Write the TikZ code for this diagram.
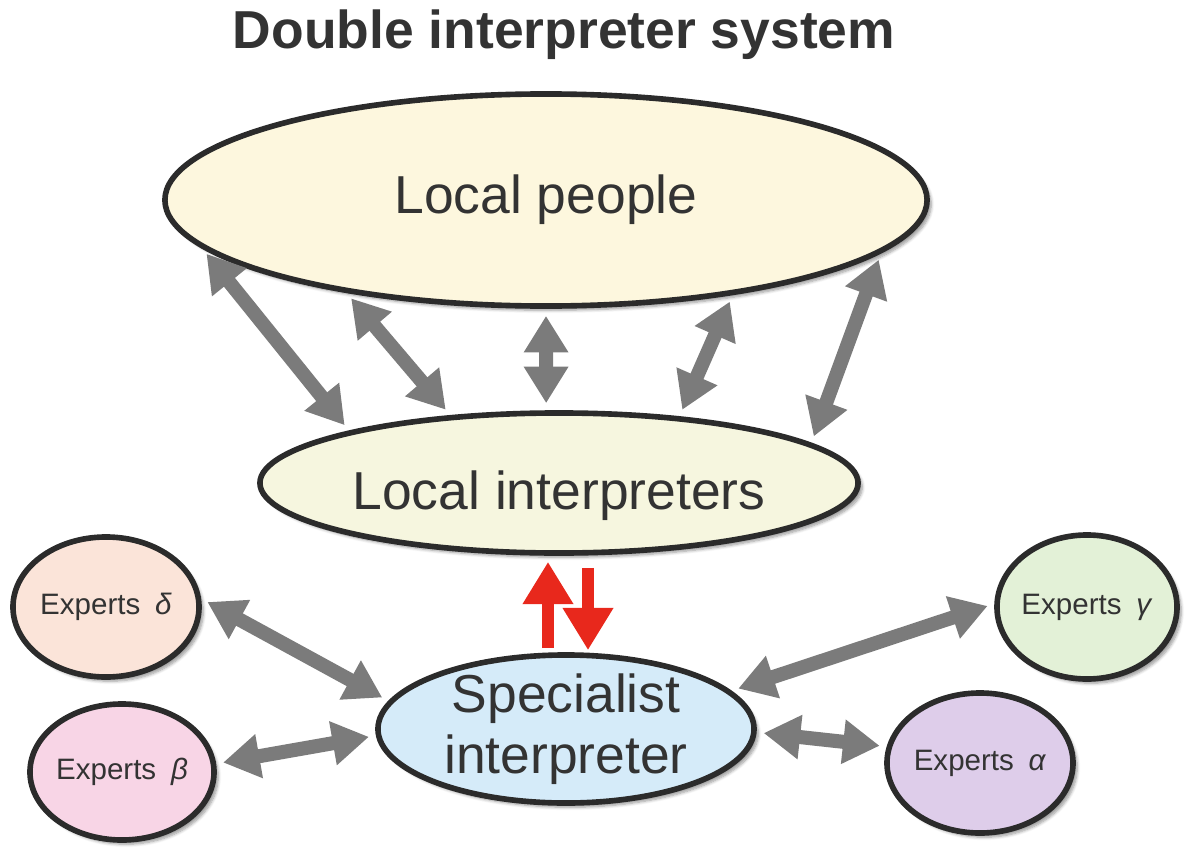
\documentclass[tikz,border=0pt]{standalone}
\usepackage{fontspec}
\setmainfont{Liberation Sans}
\usetikzlibrary{arrows.meta,shapes.geometric,calc,shadows.blur}
\definecolor{edge}{HTML}{2B2B2B}
\definecolor{ink}{HTML}{333333}
\definecolor{lpfill}{HTML}{FDF7DE}
\definecolor{lifill}{HTML}{F6F6DF}
\definecolor{sifill}{HTML}{D5EBF9}
\definecolor{deltafill}{HTML}{FBE4D9}
\definecolor{betafill}{HTML}{F8D5E6}
\definecolor{gammafill}{HTML}{E3F1D7}
\definecolor{alphafill}{HTML}{DECDEA}
\definecolor{linkgray}{HTML}{7B7B7B}
\definecolor{handred}{HTML}{E8281C}

\begin{document}
\begin{tikzpicture}[x=0.025cm,y=-0.025cm,
  bubble/.style={ellipse,draw=edge,line width=4pt,inner sep=-4pt,text=ink,
    blur shadow={shadow xshift=3pt,shadow yshift=-3pt,shadow blur steps=6,shadow opacity=40}},
  big/.style={font=\fontsize{38}{43}\selectfont},
  small/.style={font=\fontsize{21}{24}\selectfont},
  link/.style={draw=linkgray,line width=10pt,{Triangle[width=30pt,length=26pt]}-{Triangle[width=30pt,length=26pt]},shorten <=5pt,shorten >=5pt},
  handover/.style={draw=handred,line width=9pt,-{Triangle[width=34pt,length=30pt]}}]
\useasboundingbox (0,0) rectangle (1186,848);
%title
\node[text=ink,font=\fontsize{38}{42}\selectfont\bfseries] (title) at (564,35) {Double interpreter system};
%bubbles
\node[bubble,big,fill=lpfill,minimum width=19.05cm,minimum height=5.3cm] (lp) at (546,200) {Local people};
\node[bubble,big,fill=lifill,minimum width=14.95cm,minimum height=3.5cm,text height=46pt] (li) at (559,483) {Local interpreters};
\node[bubble,big,fill=sifill,minimum width=9.4cm,minimum height=3.7cm,align=center] (si) at (566,729) {Specialist\\interpreter};
\node[bubble,small,fill=deltafill,minimum width=4.65cm,minimum height=3.5cm] (delta) at (106,607) {Experts\enspace\textit{δ}};
\node[bubble,small,fill=betafill,minimum width=4.6cm,minimum height=3.4cm] (beta) at (122,772) {Experts\enspace\textit{β}};
\node[bubble,small,fill=gammafill,minimum width=4.5cm,minimum height=3.6cm] (gamma) at (1087,607) {Experts\enspace\textit{γ}};
\node[bubble,small,fill=alphafill,minimum width=4.65cm,minimum height=3.5cm] (alpha) at (980,763) {Experts\enspace\textit{α}};
%people <-> local interpreters
\draw[link] (lp.188) -- (li.166);
\draw[link] (lp.205) -- (li.148);
\draw[link] (lp.270) -- (li.100);
\draw[link] (lp.333) -- (li.29);
\draw[link] (lp.351) -- (li.9);
%specialist <-> experts
\draw[link] (delta.5) -- (si.171);
\draw[link] (beta.5) -- (si.182);
\draw[link] (gamma.178) -- (si.13);
\draw[link] (si.359) -- (alpha.170);
%red handover
\draw[handover] ($(si.north)+(-18,-4)$) -- ($(li.south)+(-11,6)$);
\draw[handover] ($(li.south)+(29,12)$) -- ($(si.north)+(22,-2)$);
\end{tikzpicture}
\end{document}
